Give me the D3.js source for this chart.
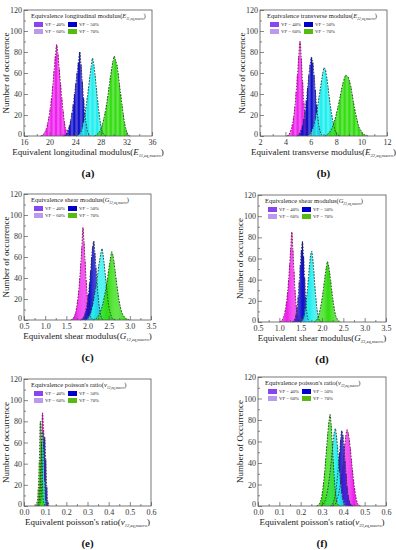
<!DOCTYPE html>
<html>
<head>
<meta charset="utf-8">
<script src="https://cdn.jsdelivr.net/npm/d3@7"></script>
<style>
  body { margin: 0; background: #fff; }
  text { font-family: "Liberation Serif", "DejaVu Serif", serif; }
</style>
</head>
<body>
<div id="chart"></div>
<script>
// series names / legend
var vfLabels = ["VF = 40%", "VF = 50%", "VF = 60%", "VF = 70%"];

// (a) E11 histograms: start of first bin, bin width, counts
var aStart = [18.8, 22.4, 24.4, 27.2];
var aStep = 0.2;
var aVf40 = [1, 2, 4, 7, 12, 18, 26, 36, 48, 62, 76, 87, 78, 64, 50, 36, 24, 14, 7, 3, 1];
var aVf50 = [1, 3, 6, 10, 15, 22, 30, 40, 50, 60, 70, 80, 68, 52, 36, 22, 12, 5, 2];
var aVf60 = [1, 2, 4, 8, 13, 20, 28, 37, 47, 57, 66, 74, 68, 58, 46, 34, 23, 14, 7, 3, 1];
var aVf70 = [1, 2, 3, 5, 8, 12, 17, 23, 30, 38, 47, 56, 64, 71, 76, 72, 68, 60, 50, 40, 30, 21, 13, 7, 3, 1];
var aTicks = [16, 20, 24, 28, 32, 36];

// (b) E22
var bStart = [4.2, 5.0, 5.8, 7.2];
var bStep = 0.1;
var bVf40 = [1, 3, 6, 11, 18, 28, 42, 58, 76, 90, 74, 52, 32, 16, 6, 2];
var bVf50 = [1, 3, 6, 10, 16, 24, 34, 46, 58, 68, 75, 70, 58, 44, 30, 18, 9, 4, 1];
var bVf60 = [1, 2, 4, 7, 11, 16, 22, 29, 37, 45, 53, 60, 65, 63, 56, 47, 37, 28, 20, 13, 8, 4, 2, 1];
var bVf70 = [1, 2, 3, 5, 7, 10, 14, 18, 23, 28, 34, 40, 46, 51, 55, 58, 57, 56, 52, 47, 40, 33, 26, 20, 15, 10, 7, 5, 3, 2, 1, 1];
var bTicks = [2, 4, 6, 8, 10, 12];

// (c) G12
var cStart = [1.63, 1.86, 1.98, 2.16];
var cStep = 0.025;
var cVf40 = [1, 2, 4, 7, 12, 19, 28, 40, 54, 70, 88, 74, 56, 38, 24, 14, 7, 3, 1, 1];
var cVf50 = [1, 2, 4, 7, 11, 17, 25, 35, 47, 60, 70, 75, 64, 50, 36, 24, 14, 7, 3, 1];
var cVf60 = [1, 2, 4, 6, 9, 13, 18, 24, 30, 37, 44, 52, 58, 64, 68, 62, 54, 44, 34, 24, 16, 10, 6, 3, 1, 1];
var cVf70 = [1, 1, 2, 3, 5, 7, 10, 13, 17, 22, 27, 33, 40, 47, 54, 60, 65, 62, 56, 48, 40, 32, 25, 18, 13, 9, 6, 4, 3, 2, 1, 1];
var cTicks = [0.5, 1.0, 1.5, 2.0, 2.5, 3.0, 3.5];

// (d) G23
var dStart = [1.03, 1.33, 1.52, 1.84];
var dStep = 0.025;
var dVf40 = [1, 2, 4, 7, 12, 19, 28, 40, 55, 70, 85, 68, 48, 30, 16, 7, 3, 1];
var dVf50 = [1, 3, 7, 14, 24, 38, 54, 68, 76, 62, 42, 24, 10, 3];
var dVf60 = [1, 3, 6, 12, 20, 30, 42, 54, 63, 67, 60, 48, 34, 22, 12, 6, 2, 1];
var dVf70 = [1, 2, 4, 7, 11, 16, 22, 29, 37, 45, 52, 57, 54, 47, 39, 30, 22, 15, 9, 5, 3, 1, 1];
var dTicks = [0.5, 1.0, 1.5, 2.0, 2.5, 3.0, 3.5];

// (e) nu12
var eStart = [0.065, 0.075, 0.07, 0.06];
var eStep = 0.005;
var eVf40 = [3, 12, 30, 58, 88, 72, 40, 14, 3];
var eVf50 = [4, 14, 34, 58, 65, 44, 18, 4];
var eVf60 = [5, 18, 44, 70, 56, 24, 5];
var eVf70 = [4, 16, 42, 80, 60, 22, 4];
var eTicks = [0.0, 0.1, 0.2, 0.3, 0.4, 0.5, 0.6];

// (f) nu23
var fStart = [0.355, 0.345, 0.3, 0.28];
var fStep = 0.005;
var fVf40 = [1, 2, 4, 7, 11, 16, 22, 30, 38, 48, 58, 66, 71, 68, 62, 54, 44, 34, 25, 17, 10, 5, 2, 1];
var fVf50 = [1, 3, 6, 11, 18, 27, 38, 50, 62, 70, 66, 56, 42, 30, 18, 10, 5, 2, 1];
var fVf60 = [1, 2, 4, 7, 11, 16, 23, 31, 40, 50, 60, 68, 72, 66, 56, 44, 32, 21, 12, 6, 3, 1];
var fVf70 = [1, 2, 4, 8, 14, 22, 32, 44, 56, 68, 78, 85, 76, 60, 42, 26, 14, 6, 2, 1];
var fTicks = [0.0, 0.1, 0.2, 0.3, 0.4, 0.5, 0.6];

var yTicks = [0, 20, 40, 60, 80, 100, 120];

// colours
var barColors = ["#ee22ee", "#1111cc", "#22eeee", "#33dd11"];
var swatchColors = ["#8844ee", "#0000cc", "#bb99ee", "#55bb11"];

var panels = [
  {tag: "(a)", start: aStart, step: aStep, series: [aVf40, aVf50, aVf60, aVf70], ticks: aTicks, fmt: d3.format("d"),
   left: 24, right: 152, top: 10, bottom: 136,
   legend: "Equivalence longitudinal modulus(", sym: "E", sub: "11,eq,macro",
   xtitle: "Equivalent longitudinal modulus(", ylabel: "Number of occurrence"},
  {tag: "(b)", start: bStart, step: bStep, series: [bVf40, bVf50, bVf60, bVf70], ticks: bTicks, fmt: d3.format("d"),
   left: 260, right: 387, top: 10, bottom: 136,
   legend: "Equivalence transverse modulus(", sym: "E", sub: "22,eq,macro",
   xtitle: "Equivalent transverse modulus(", ylabel: "Number of occurrence"},
  {tag: "(c)", start: cStart, step: cStep, series: [cVf40, cVf50, cVf60, cVf70], ticks: cTicks, fmt: d3.format(".1f"),
   left: 24, right: 151, top: 194, bottom: 320,
   legend: "Equivalence shear modulus(", sym: "G", sub: "12,eq,macro",
   xtitle: "Equivalent shear modulus(", ylabel: "Number of occurrence"},
  {tag: "(d)", start: dStart, step: dStep, series: [dVf40, dVf50, dVf60, dVf70], ticks: dTicks, fmt: d3.format(".1f"),
   left: 258, right: 386, top: 195, bottom: 322,
   legend: "Equivalence shear modulus(", sym: "G", sub: "23,eq,macro",
   xtitle: "Equivalent shear modulus(", ylabel: "Number of occurrence"},
  {tag: "(e)", start: eStart, step: eStep, series: [eVf40, eVf50, eVf60, eVf70], ticks: eTicks, fmt: d3.format(".1f"),
   left: 24, right: 151, top: 379, bottom: 506,
   legend: "Equivalence poisson's ratio(", sym: "v", sub: "12,eq,macro",
   xtitle: "Equivalent poisson's ratio(", ylabel: "Number of occurrence"},
  {tag: "(f)", start: fStart, step: fStep, series: [fVf40, fVf50, fVf60, fVf70], ticks: fTicks, fmt: d3.format(".1f"),
   left: 258, right: 386, top: 377, bottom: 506,
   legend: "Equivalence poisson's ratio(", sym: "v", sub: "23,eq,macro",
   xtitle: "Equivalent poisson's ratio(", ylabel: "Number of Occurrence"}
];

var svg = d3.select("#chart").append("svg")
  .attr("width", 396)
  .attr("height", 550);

panels.forEach(function(p) {
  var x = d3.scaleLinear().domain([p.ticks[0], p.ticks[p.ticks.length - 1]]).range([p.left, p.right]);
  var y = d3.scaleLinear().domain([0, 120]).range([p.bottom, p.top]);
  var g = svg.append("g");

  // histograms
  p.series.forEach(function(counts, si) {
    var x0 = p.start[si];
    var bins = counts.map(function(c, i) { return {a: x0 + i * p.step, b: x0 + (i + 1) * p.step, c: c}; });
    g.append("g").selectAll("rect")
      .data(bins)
      .enter()
      .append("rect")
      .attr("x", function(d) { return x(d.a); })
      .attr("width", function(d) { return Math.max(0.6, x(d.b) - x(d.a)); })
      .attr("y", function(d) { return y(d.c); })
      .attr("height", function(d) { return y(0) - y(d.c); })
      .attr("fill", barColors[si]);
  });
  // dashed fit lines on top
  p.series.forEach(function(counts, si) {
    var x0 = p.start[si];
    var pts = [[x0 - p.step, 0]];
    counts.forEach(function(c, i) { pts.push([x0 + (i + 0.5) * p.step, c]); });
    pts.push([x0 + (counts.length + 1) * p.step, 0]);
    var line = d3.line()
      .x(function(d) { return x(d[0]); })
      .y(function(d) { return y(d[1]); })
      .curve(d3.curveCatmullRom);
    g.append("path")
      .attr("d", line(pts))
      .attr("fill", "none")
      .attr("stroke", si == 0 ? "#6a2040" : "#333")
      .attr("stroke-width", 0.9)
      .attr("stroke-dasharray", "1.6,1.4");
  });

  // frame
  g.append("rect")
    .attr("x", p.left).attr("y", p.top)
    .attr("width", p.right - p.left).attr("height", p.bottom - p.top)
    .attr("fill", "none").attr("stroke", "#555").attr("stroke-width", 0.8);

  // x axis (inward ticks)
  var xAxis = d3.axisBottom(x).tickValues(p.ticks).tickSize(-4).tickPadding(3).tickFormat(p.fmt);
  var xa = g.append("g").attr("transform", "translate(0," + p.bottom + ")").call(xAxis);
  var minorX = [];
  for (var i = 0; i < p.ticks.length - 1; i++) minorX.push((p.ticks[i] + p.ticks[i + 1]) / 2);
  var xm = g.append("g").attr("transform", "translate(0," + p.bottom + ")")
    .call(d3.axisBottom(x).tickValues(minorX).tickSize(-2).tickFormat(""));

  // y axis
  var yAxis = d3.axisLeft(y).tickValues(yTicks).tickSize(-4).tickPadding(2);
  var ya = g.append("g").attr("transform", "translate(" + p.left + ",0)").call(yAxis);
  var ym = g.append("g").attr("transform", "translate(" + p.left + ",0)")
    .call(d3.axisLeft(y).tickValues([10, 30, 50, 70, 90, 110]).tickSize(-2).tickFormat(""));

  [xa, xm, ya, ym].forEach(function(a) {
    a.select(".domain").remove();
    a.selectAll("line").attr("stroke", "#555").attr("stroke-width", 0.7);
    a.selectAll("text").attr("font-size", "8px").attr("fill", "#333")
      .style("font-family", "Liberation Serif");
  });
  // lift the "0" label a little so it clears the x tick labels
  ya.selectAll(".tick text").filter(function(d) { return d === 0; }).attr("dy", "0.05em");

  // y label
  g.append("text")
    .attr("transform", "translate(" + (p.left - 15) + "," + ((p.top + p.bottom) / 2) + ") rotate(-90)")
    .attr("text-anchor", "middle")
    .attr("font-size", "9px")
    .attr("fill", "#222")
    .text(p.ylabel);

  // x title
  var xt = g.append("text")
    .attr("x", (p.left + p.right) / 2)
    .attr("y", p.bottom + 19)
    .attr("text-anchor", "middle")
    .attr("font-size", "9px")
    .attr("fill", "#222");
  xt.append("tspan").text(p.xtitle);
  xt.append("tspan").attr("font-style", "italic").text(p.sym);
  xt.append("tspan").attr("font-size", "4.5px").attr("font-style", "italic").attr("dy", 2).text(p.sub);
  xt.append("tspan").attr("dy", -2).text(")");

  // panel tag
  g.append("text")
    .attr("x", (p.left + p.right) / 2)
    .attr("y", p.bottom + 41)
    .attr("text-anchor", "middle")
    .attr("font-size", "11px")
    .attr("font-weight", "bold")
    .attr("fill", "#111")
    .text(p.tag);

  // legend
  var lt = g.append("text")
    .attr("x", p.left + 7)
    .attr("y", p.top + 8)
    .attr("font-size", "6.5px")
    .attr("fill", "#222");
  lt.append("tspan").text(p.legend);
  lt.append("tspan").attr("font-style", "italic").text(p.sym);
  lt.append("tspan").attr("font-size", "3.5px").attr("font-style", "italic").attr("dy", 1.5).text(p.sub);
  lt.append("tspan").attr("dy", -1.5).text(")");

  vfLabels.forEach(function(lab, si) {
    var col = si % 2, row = Math.floor(si / 2);
    var lx = p.left + 10 + col * 34;
    var ly = p.top + 12 + row * 7;
    g.append("rect")
      .attr("x", lx).attr("y", ly)
      .attr("width", 9).attr("height", 5)
      .attr("fill", swatchColors[si]);
    g.append("text")
      .attr("x", lx + 11).attr("y", ly + 4.2)
      .attr("font-size", "4.8px")
      .attr("fill", "#222")
      .text(lab);
  });
});
</script>
</body>
</html>
